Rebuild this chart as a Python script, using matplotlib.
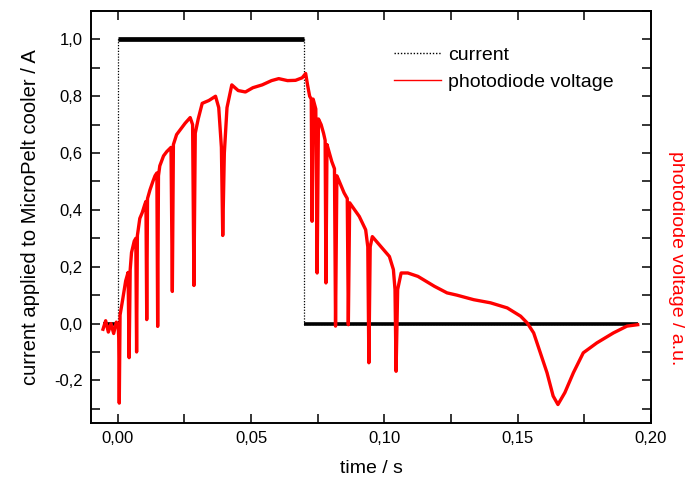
import matplotlib
matplotlib.use("Agg")
import matplotlib.pyplot as plt
from matplotlib.ticker import MultipleLocator, FuncFormatter

plt.rcParams['font.family'] = ['Liberation Sans', 'DejaVu Sans']

# current applied to the MicroPelt cooler (A)
t_current = [-0.0055, 0.0, 0.0, 0.070, 0.070, 0.1952]
i_current = [0.0, 0.0, 1.0, 1.0, 0.0, 0.0]

# photodiode voltage (a.u.)
t_pd = [-0.0055, -0.0045, -0.0035, -0.0025, -0.0015, -0.0005, 0.0002,
        0.0004, 0.0006, 0.0009, 0.0018, 0.0030, 0.0039,
        0.0043, 0.0047, 0.0052, 0.0062, 0.0068,
        0.0071, 0.0074, 0.0083, 0.0092, 0.0102, 0.0106,
        0.0109, 0.0112, 0.0121, 0.0132, 0.0140, 0.0147,
        0.0150, 0.0153, 0.0158, 0.0172, 0.0184, 0.0200,
        0.0205, 0.0209, 0.0221, 0.0237, 0.0253, 0.0272, 0.0281,
        0.0286, 0.0291, 0.0302, 0.0317, 0.0342, 0.0367, 0.0379, 0.0389,
        0.0394, 0.0400, 0.0410, 0.0428, 0.0452, 0.0479, 0.0507, 0.0542, 0.0577,
        0.0604, 0.0637, 0.0667, 0.0692, 0.0705, 0.0712, 0.0720, 0.0726,
        0.0729, 0.0733, 0.0743,
        0.0748, 0.0753, 0.0763, 0.0772, 0.0778,
        0.0781, 0.0785, 0.0791, 0.0803, 0.0813,
        0.0817, 0.0822, 0.0829, 0.0849, 0.0861,
        0.0865, 0.0870, 0.0906, 0.0930, 0.0938,
        0.0942, 0.0947, 0.0955, 0.0987, 0.1019, 0.1034, 0.1040,
        0.1044, 0.1050, 0.1063, 0.1088, 0.1126, 0.1188, 0.1235, 0.1272,
        0.1335, 0.1398, 0.1461, 0.1511, 0.1536, 0.1560, 0.1585, 0.1610,
        0.1633, 0.1651, 0.1677, 0.1709, 0.1746, 0.1797, 0.1859, 0.1910, 0.1950]
v_pd = [-0.02, 0.01, -0.03, 0.0, -0.035, 0.005, -0.01,
        -0.05, -0.28, 0.03, 0.08, 0.15, 0.18,
        -0.12, 0.19, 0.25, 0.29, 0.30,
        -0.10, 0.31, 0.37, 0.39, 0.42, 0.43,
        0.014, 0.44, 0.47, 0.50, 0.52, 0.53,
        -0.01, 0.52, 0.555, 0.59, 0.605, 0.62,
        0.113, 0.63, 0.665, 0.685, 0.705, 0.725, 0.70,
        0.134, 0.67, 0.72, 0.775, 0.785, 0.80, 0.76, 0.62,
        0.31, 0.60, 0.76, 0.84, 0.82, 0.815, 0.83, 0.84, 0.855,
        0.862, 0.855, 0.856, 0.865, 0.88, 0.84, 0.80, 0.79,
        0.36, 0.79, 0.755,
        0.178, 0.72, 0.70, 0.67, 0.645,
        0.143, 0.63, 0.61, 0.57, 0.545,
        -0.009, 0.52, 0.505, 0.46, 0.44,
        -0.004, 0.425, 0.377, 0.33, 0.27,
        -0.138, 0.27, 0.306, 0.271, 0.236, 0.19, 0.12,
        -0.168, 0.12, 0.178, 0.178, 0.166, 0.131, 0.108, 0.10,
        0.084, 0.073, 0.055, 0.026, 0.002, -0.033, -0.103, -0.173,
        -0.255, -0.285, -0.243, -0.173, -0.103, -0.068, -0.033, -0.009, -0.004]

x_ticks = [0.00, 0.05, 0.10, 0.15, 0.20]
y_ticks = [-0.2, 0.0, 0.2, 0.4, 0.6, 0.8, 1.0]

W, H = 685, 482
fig = plt.figure(figsize=(W / 100, H / 100), dpi=100)
ax = fig.add_axes([91 / W, 1 - 423 / H, (651 - 91) / W, (423 - 11) / H])

# current: dotted trace plus the dense noisy plateaus
ax.plot(t_current, i_current, color='black', lw=0.9, ls=(0, (1, 1.3)), label='current', zorder=2)
ax.plot(t_current[2:4], i_current[2:4], color='black', lw=3.4, solid_capstyle='butt', zorder=2)
ax.plot(t_current[4:6], i_current[4:6], color='black', lw=2.6, solid_capstyle='butt', zorder=2)
ax.plot(t_current[0:2], i_current[0:2], color='black', lw=2.6, solid_capstyle='butt', zorder=2)

ax.plot(t_pd, v_pd, color='#ff0000', lw=2.4, label='photodiode voltage', zorder=3)

ax.set_xlim(-0.01, 0.20)
ax.set_ylim(-0.35, 1.1)
ax.set_xticks(x_ticks)
ax.set_yticks(y_ticks)
ax.xaxis.set_minor_locator(MultipleLocator(0.025))
ax.yaxis.set_minor_locator(MultipleLocator(0.1))
ax.xaxis.set_major_formatter(FuncFormatter(lambda v, p: f"{v:.2f}".replace('.', ',')))
ax.yaxis.set_major_formatter(FuncFormatter(lambda v, p: f"{v:.1f}".replace('.', ',').replace('-0,0', '0,0')))

ax.tick_params(which='both', direction='in', top=True, right=True, length=6.5, width=1.1,
               labelsize=12, pad=6, colors='black')
for s in ax.spines.values():
    s.set_linewidth(1.4)

ax.set_xlabel('time / s', fontsize=14, labelpad=10)
ax.set_ylabel('current applied to MicroPelt cooler / A', fontsize=14.5, labelpad=10)
fig.text(676 / W, 1 - 258 / H, 'photodiode voltage / a.u.', color='#ff0000', fontsize=14,
         rotation=-90, ha='center', va='center')

leg = ax.legend(loc='upper left', bbox_to_anchor=(394 / W, 1 - 46 / H),
                bbox_transform=fig.transFigure, frameon=False, fontsize=14,
                handlelength=2.4, handletextpad=0.4, labelspacing=0.5,
                borderpad=0, borderaxespad=0)
for ln in leg.get_lines():
    ln.set_linewidth(1.0)

fig.savefig('out.png', dpi=100)
